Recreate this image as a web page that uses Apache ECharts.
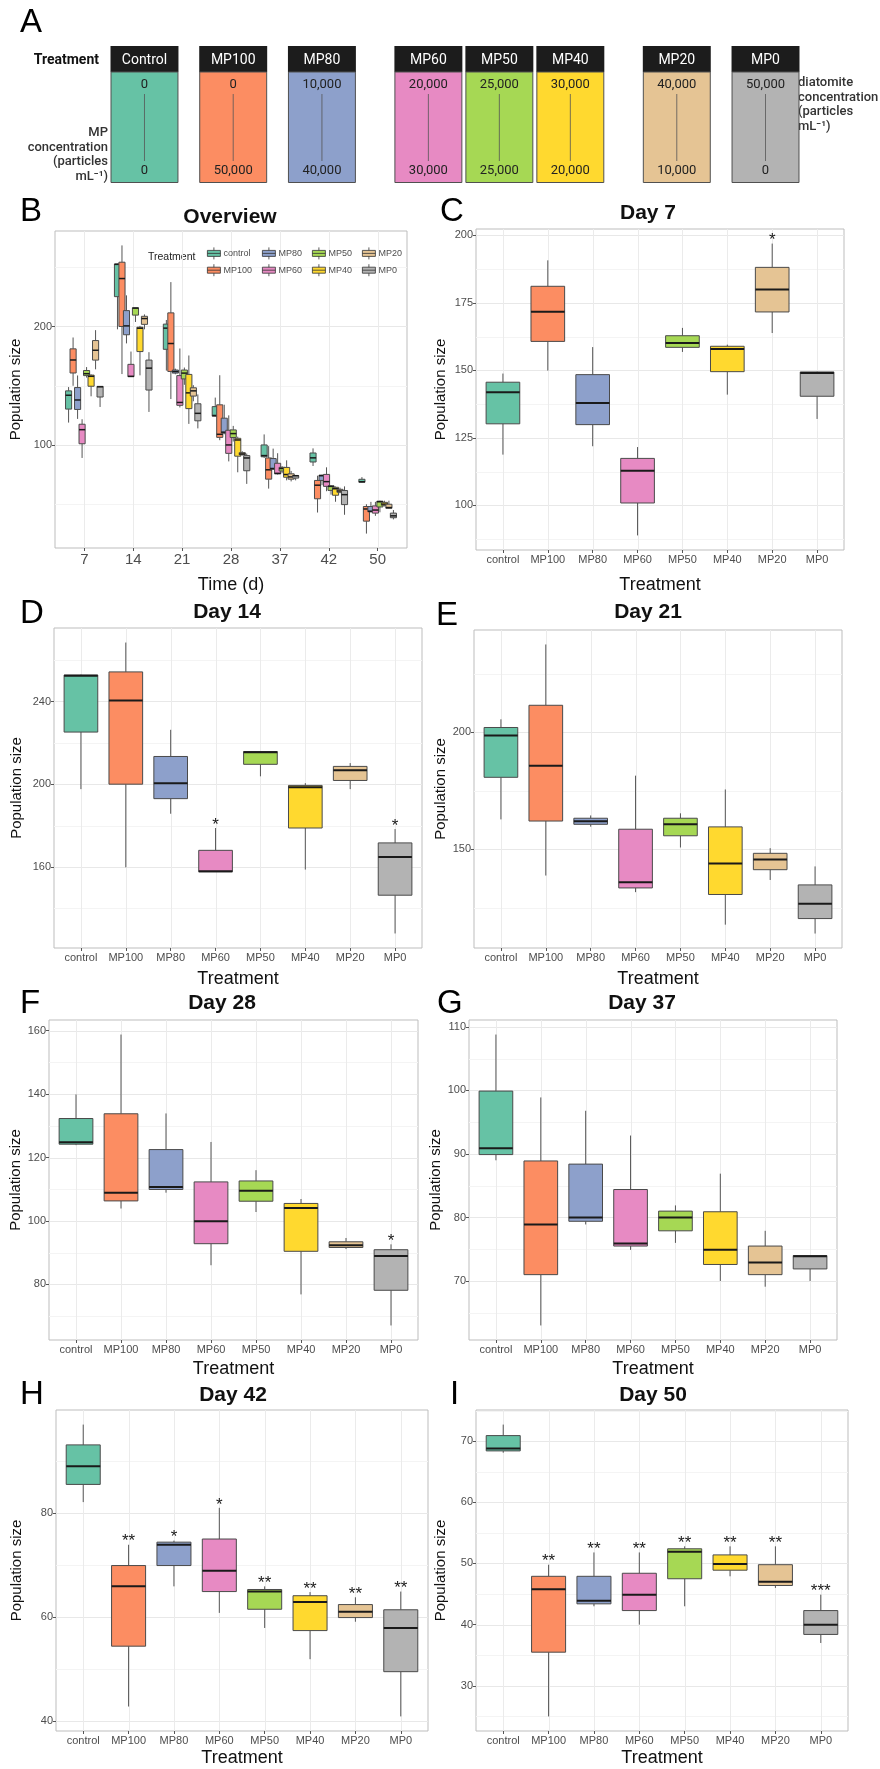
<!DOCTYPE html>
<html><head><meta charset="utf-8">
<script src="https://cdn.jsdelivr.net/npm/echarts@6/dist/echarts.min.js"></script>
<style>html,body{margin:0;padding:0;background:#fff}#c{width:880px;height:1769px}</style>
</head><body><div id="c"></div>
<script>
// ---------------- DATA ----------------
const treatments = ['control','MP100','MP80','MP60','MP50','MP40','MP20','MP0'];
const headerLabels = ['Control','MP100','MP80','MP60','MP50','MP40','MP20','MP0'];
const diatomiteConc = ['0','0','10,000','20,000','25,000','30,000','40,000','50,000'];
const mpConc = ['0','50,000','40,000','30,000','25,000','20,000','10,000','0'];
const days = ['7','14','21','28','37','42','50'];
// each row: [min, Q1, median, Q3, max] per treatment
const day7 = [
 [118.8,130.2,141.9,145.6,148.8],[149.9,160.7,171.7,181.1,190.7],[121.9,129.9,137.9,148.4,158.6],
 [88.9,100.9,112.8,117.4,121.6],[156.8,158.5,160.1,162.8,165.7],[141.0,149.5,157.9,158.9,159.5],
 [163.8,171.6,179.9,188.1,196.9],[132.0,140.4,149.0,149.4,149.5]];
const day14 = [
 [197.6,225.2,252.5,252.8,253.0],[159.8,200.0,240.5,254.3,268.5],[185.7,193.0,200.5,213.4,226.3],
 [157.6,157.6,157.9,168.0,178.8],[203.8,209.6,215.5,215.8,215.9],[158.7,178.8,198.5,199.4,200.5],
 [197.6,201.8,206.7,208.6,210.2],[127.8,146.3,164.8,171.6,178.3]];
const day21 = [
 [162.7,180.7,198.6,202.0,205.5],[138.7,162.0,185.6,211.5,237.5],[159.6,160.6,161.9,163.2,164.4],
 [131.6,133.4,135.8,158.5,181.4],[150.7,155.7,160.6,163.2,165.3],[117.7,130.6,143.9,159.5,175.5],
 [136.8,141.2,145.6,148.2,150.4],[113.9,120.3,126.6,134.7,142.6]];
const day28 = [
 [123.9,124.2,124.8,132.3,139.9],[103.9,106.3,108.9,133.8,158.8],[108.9,109.9,110.7,122.5,133.9],
 [86.0,92.8,99.9,112.3,124.9],[102.8,106.2,109.5,112.6,116.0],[76.8,90.4,104.1,105.5,106.9],
 [91.1,91.6,92.3,93.4,94.6],[67.0,78.1,88.9,90.9,92.6]];
const day37 = [
 [89.0,89.9,90.9,99.9,108.8],[63.0,71.0,78.9,88.9,98.9],[78.9,79.4,80.0,88.4,96.8],
 [74.9,75.5,75.9,84.4,92.9],[76.0,77.9,80.0,81.0,81.9],[70.0,72.6,74.9,80.9,86.9],
 [69.1,71.0,72.9,75.5,77.9],[70.0,71.9,73.9,74.0,74.0]];
const day42 = [
 [82.1,85.5,89.0,93.1,97.0],[42.8,54.4,65.9,69.9,73.9],[65.9,69.9,73.9,74.4,74.7],
 [60.8,64.9,68.9,75.0,81.0],[57.9,61.5,64.9,65.3,65.9],[51.9,57.4,62.9,64.1,64.8],
 [59.1,59.9,61.0,62.4,63.8],[40.9,49.5,57.9,61.4,64.9]];
const day50 = [
 [68.1,68.4,68.8,70.9,72.7],[25.0,35.5,45.8,47.9,49.8],[43.0,43.4,43.9,47.9,51.8],
 [40.0,42.3,44.9,48.4,51.8],[43.0,47.5,51.9,52.4,52.8],[47.9,48.9,49.9,51.4,52.8],
 [46.0,46.4,47.0,49.8,52.8],[37.0,38.4,40.0,42.3,44.9]];
const sig7  = ['','','','','','','*',''];
const sig14 = ['','','','*','','','','*'];
const sig21 = ['','','','','','','',''];
const sig28 = ['','','','','','','','*'];
const sig37 = ['','','','','','','',''];
const sig42 = ['','**','*','*','**','**','**','**'];
const sig50 = ['','**','**','**','**','**','**','***'];
const ticksOverview = [100,200];
const ticks7 = [100,125,150,175,200];
const ticks14 = [160,200,240];
const ticks21 = [150,200];
const ticks28 = [80,100,120,140,160];
const ticks37 = [70,80,90,100,110];
const ticks42 = [40,60,80];
const ticks50 = [30,40,50,60,70];

// ---------------- STYLE / LAYOUT ----------------
const palette = ['#66c2a5','#fc8d62','#8da0cb','#e78ac3','#a6d854','#ffd92f','#e5c494','#b3b3b3'];
const FONT = "'Liberation Sans', Arial, Helvetica, sans-serif";
const AFONT = "Roboto, 'Liberation Sans', sans-serif";
const aSlots = [0,5,10,16,20,24,30,35];
const dayArrays = [day7, day14, day21, day28, day37, day42, day50];

const panels = [
 {title:'Day 7',  data:day7,  sig:sig7,  ticks:ticks7,  rect:[476,229,368,321], nameGapY:27.5, nameGapX:26, tx:648, ty:213},
 {title:'Day 14', data:day14, sig:sig14, ticks:ticks14, rect:[54,628,368,320],  nameGapY:30,   nameGapX:22, tx:227, ty:612},
 {title:'Day 21', data:day21, sig:sig21, ticks:ticks21, rect:[474,630,368,318], nameGapY:25.5, nameGapX:22, tx:648, ty:612},
 {title:'Day 28', data:day28, sig:sig28, ticks:ticks28, rect:[49,1020,369,320], nameGapY:24.5, nameGapX:20, tx:222, ty:1003},
 {title:'Day 37', data:day37, sig:sig37, ticks:ticks37, rect:[469,1020,368,320], nameGapY:20.5, nameGapX:20, tx:642, ty:1003},
 {title:'Day 42', data:day42, sig:sig42, ticks:ticks42, rect:[56,1410,372,321], nameGapY:31.5, nameGapX:18, tx:233, ty:1395},
 {title:'Day 50', data:day50, sig:sig50, ticks:ticks50, rect:[476,1410,372,321], nameGapY:27.5, nameGapX:18, tx:653, ty:1395}
];
const letters = [['A',20,23],['B',20,212],['C',440,212],['D',20,614],['E',436,616],['F',20,1004],['G',437,1004],['H',20,1395],['I',450,1395]];

function rangeOf(rows) {
  let lo = Infinity, hi = -Infinity;
  rows.forEach(r => { lo = Math.min(lo, r[0]); hi = Math.max(hi, r[4]); });
  const pad = (hi - lo) * 0.05;
  return [lo - pad, hi + pad];
}
function breaksOf(ticks, yr) {
  const major = [], minor = [];
  const step = ticks.length > 1 ? ticks[1] - ticks[0] : 100;
  for (let k = -1; k <= ticks.length; k++) {
    const v = ticks[0] + k * step, m = v + step / 2;
    if (v >= yr[0] && v <= yr[1]) major.push(v);
    if (m >= yr[0] && m <= yr[1]) minor.push(m);
  }
  return {major, minor};
}
function makeGrid(br, nCat, yr) {
  return function(params, api) {
    const cs = params.coordSys, ch = [];
    br.minor.forEach(v => { const y = Math.round(api.coord([0, v])[1]) + 0.5;
      ch.push({type:'line', shape:{x1:cs.x, y1:y, x2:cs.x+cs.width, y2:y}, style:{stroke:'#f4f4f4', lineWidth:1}}); });
    br.major.forEach(v => { const y = Math.round(api.coord([0, v])[1]) + 0.5;
      ch.push({type:'line', shape:{x1:cs.x, y1:y, x2:cs.x+cs.width, y2:y}, style:{stroke:'#e8e8e8', lineWidth:1}}); });
    for (let i = 0; i < nCat; i++) { const x = Math.round(api.coord([i, yr[0]])[0]) + 0.5;
      ch.push({type:'line', shape:{x1:x, y1:cs.y, x2:x, y2:cs.y+cs.height}, style:{stroke:'#ebebeb', lineWidth:1}}); }
    return {type:'group', children:ch};
  };
}
function makeBox(o) {
  return function(params, api) {
    const x = api.value(0) + o.offset;
    const c = k => api.coord([x, api.value(k)]);
    const lo = c(1), q1 = c(2), md = c(3), q3 = c(4), hi = c(5);
    const hw = api.size([o.width, 0])[0] / 2;
    const cx = lo[0];
    const color = o.color(params.dataIndex);
    const ch = [
      {type:'line', shape:{x1:cx,y1:hi[1],x2:cx,y2:q3[1]}, style:{stroke:'#555', lineWidth:1}},
      {type:'line', shape:{x1:cx,y1:q1[1],x2:cx,y2:lo[1]}, style:{stroke:'#555', lineWidth:1}},
      {type:'rect', shape:{x:cx-hw, y:q3[1], width:2*hw, height:Math.max(q1[1]-q3[1], 0.5)},
        style:{fill:color, stroke:'#4a4a4a', lineWidth:1}},
      {type:'line', shape:{x1:cx-hw,y1:md[1],x2:cx+hw,y2:md[1]}, style:{stroke:'#1a1a1a', lineWidth:o.medW}}
    ];
    if (o.sig && o.sig[params.dataIndex]) {
      ch.push({type:'text', x:cx, y:hi[1]-3, style:{text:o.sig[params.dataIndex], fill:'#1a1a1a',
        fontSize:17, fontFamily:FONT, align:'center', verticalAlign:'middle'}});
    }
    return {type:'group', children:ch};
  };
}

const grids = [], xAxes = [], yAxes = [], series = [], graphics = [], legends = [];

// ---- Panel A (schematic) ----
grids.push({left:109, top:46, width:692, height:137, show:false});
xAxes.push({type:'value', gridIndex:0, min:-2, max:37, show:false});
yAxes.push({type:'value', gridIndex:0, min:0, max:1, show:false});
series.push({type:'custom', xAxisIndex:0, yAxisIndex:0, silent:true,
  data: aSlots.map((s,i) => [s, i]),
  renderItem: (params, api) => {
    const s = api.value(0), i = api.value(1);
    const tl = api.coord([s - 1.915, 1]), br = api.coord([s + 1.915, 0]);
    const w = br[0] - tl[0], cx = (tl[0] + br[0]) / 2, hh = 26;
    const tstyle = (t) => ({text:t, fill:'#222', fontSize:13, fontFamily:AFONT, align:'center', verticalAlign:'middle'});
    return {type:'group', children:[
      {type:'rect', shape:{x:tl[0], y:tl[1], width:w, height:hh}, style:{fill:'#1c1c1c'}},
      {type:'text', x:cx, y:tl[1]+hh/2+1, style:{text:headerLabels[i], fill:'#fff', fontSize:14, fontFamily:AFONT, align:'center', verticalAlign:'middle'}},
      {type:'rect', shape:{x:tl[0]+0.5, y:tl[1]+hh, width:w-1, height:br[1]-tl[1]-hh-0.5}, style:{fill:palette[i], stroke:'#505050', lineWidth:1}},
      {type:'line', shape:{x1:cx, y1:tl[1]+hh+22, x2:cx, y2:br[1]-22}, style:{stroke:'#555', lineWidth:0.8}},
      {type:'text', x:cx, y:tl[1]+hh+13, style:tstyle(diatomiteConc[i])},
      {type:'text', x:cx, y:br[1]-12, style:tstyle(mpConc[i])}
    ]};
  }});
graphics.push({type:'text', x:99, y:60, style:{text:'Treatment', fill:'#111', fontSize:14, fontWeight:'bold', fontFamily:AFONT, align:'right', verticalAlign:'middle'}});
['MP','concentration','(particles','mL\u207B\u00B9)'].forEach((t,k) => graphics.push({type:'text', x:108, y:133+k*14.6,
  style:{text:t, fill:'#333', fontSize:13, fontWeight:500, fontFamily:AFONT, align:'right', verticalAlign:'middle'}}));
['diatomite','concentration','(particles','mL\u207B\u00B9)'].forEach((t,k) => graphics.push({type:'text', x:798, y:83+k*14.6,
  style:{text:t, fill:'#333', fontSize:13, fontWeight:500, fontFamily:AFONT, align:'left', verticalAlign:'middle'}}));

// ---- common axis builders ----
function yAxisFor(gi, yr, ticks, gap) {
  return {type:'value', gridIndex:gi, min:yr[0], max:yr[1], axisLine:{show:false, onZero:false}, splitLine:{show:false},
    axisTick:{show:true, length:3, lineStyle:{color:'#555'}, customValues:ticks},
    axisLabel:{customValues:ticks, color:'#4d4d4d', fontSize:11, margin:3, fontFamily:FONT},
    name:'Population size', nameLocation:'middle', nameGap:gap,
    nameTextStyle:{fontSize:15, color:'#111', fontFamily:FONT}};
}
function xAxisFor(gi, n, labels, name, gap, fs) {
  const vals = labels.map((_,i) => i);
  return {type:'value', gridIndex:gi, min:-0.6, max:n-1+0.6, axisLine:{show:false, onZero:false}, splitLine:{show:false},
    axisTick:{show:true, length:3, lineStyle:{color:'#555'}, customValues:vals},
    axisLabel:{customValues:vals, formatter:(v) => labels[Math.round(v)], color:'#4d4d4d', fontSize:fs, margin:4, fontFamily:FONT},
    name:name, nameLocation:'middle', nameGap:gap, nameTextStyle:{fontSize:18, color:'#111', fontFamily:FONT}};
}
const frame = (r) => ({left:r[0], top:r[1], width:r[2], height:r[3], show:true, borderColor:'#bdbdbd', borderWidth:1, backgroundColor:'#fff'});

// ---- Panel B (overview) ----
const allRows = [].concat(...dayArrays);
const yrB = rangeOf(allRows);
grids.push(frame([55,231,352,317]));
xAxes.push(xAxisFor(1, days.length, days, 'Time (d)', 28, 15));
yAxes.push(yAxisFor(1, yrB, ticksOverview, 31.5));
series.push({type:'custom', xAxisIndex:1, yAxisIndex:1, z:1, silent:true,
  data: [[0, yrB[0]]], renderItem: makeGrid(breaksOf(ticksOverview, yrB), days.length, yrB)});
treatments.forEach((t, s) => {
  series.push({type:'custom', name:t, xAxisIndex:1, yAxisIndex:1, z:2, silent:true,
    itemStyle:{color:palette[s]},
    data: days.map((d, j) => [j].concat(dayArrays[j][s])),
    renderItem: makeBox({offset:(s - 3.5) * 0.092, width:0.125, medW:1.5, color:() => palette[s]})});
});
const boxIcon = 'path://M0,3H13V9H0Z M0,6H13 M6.5,0V3 M6.5,9V12';
[[202,['control','MP100']],[257,['MP80','MP60']],[307,['MP50','MP40']],[357,['MP20','MP0']]].forEach(([lx, names]) => {
  legends.push({orient:'vertical', left:lx, top:242, data:names, icon:boxIcon, itemWidth:13, itemHeight:12,
    itemGap:4, selectedMode:false, itemStyle:{borderColor:'#333', borderWidth:0.8},
    textStyle:{fontSize:9, color:'#4d4d4d', fontFamily:FONT, padding:[0,0,0,-2]}});
});
graphics.push({type:'text', x:148, y:257, style:{text:'Treatment', fill:'#222', fontSize:10.5, fontFamily:FONT, align:'left', verticalAlign:'middle'}});
graphics.push({type:'text', x:230, y:217, style:{text:'Overview', fill:'#111', fontSize:21, fontWeight:'bold', fontFamily:FONT, align:'center', verticalAlign:'middle'}});

// ---- Panels C-I ----
panels.forEach((p, k) => {
  const gi = k + 2;
  const yr = rangeOf(p.data);
  grids.push(frame(p.rect));
  xAxes.push(xAxisFor(gi, treatments.length, treatments, 'Treatment', p.nameGapX, 11));
  yAxes.push(yAxisFor(gi, yr, p.ticks, p.nameGapY));
  series.push({type:'custom', xAxisIndex:gi, yAxisIndex:gi, z:1, silent:true,
    data: [[0, yr[0]]], renderItem: makeGrid(breaksOf(p.ticks, yr), treatments.length, yr)});
  series.push({type:'custom', xAxisIndex:gi, yAxisIndex:gi, z:2, silent:true,
    data: p.data.map((r, i) => [i].concat(r)),
    renderItem: makeBox({offset:0, width:0.75, medW:2, color:(i) => palette[i], sig:p.sig})});
  graphics.push({type:'text', x:p.tx, y:p.ty, style:{text:p.title, fill:'#111', fontSize:21, fontWeight:'bold', fontFamily:FONT, align:'center', verticalAlign:'middle'}});
});
letters.forEach(([t,x,y]) => graphics.push({type:'text', x:x, y:y, style:{text:t, fill:'#000', fontSize:33, fontFamily:FONT, align:'left', verticalAlign:'middle'}}));

const chart = echarts.init(document.getElementById('c'), null, {renderer:'canvas'});
chart.setOption({animation:false, backgroundColor:'#fff', grid:grids, xAxis:xAxes, yAxis:yAxes,
  series:series, legend:legends, graphic:graphics});
</script></body></html>
